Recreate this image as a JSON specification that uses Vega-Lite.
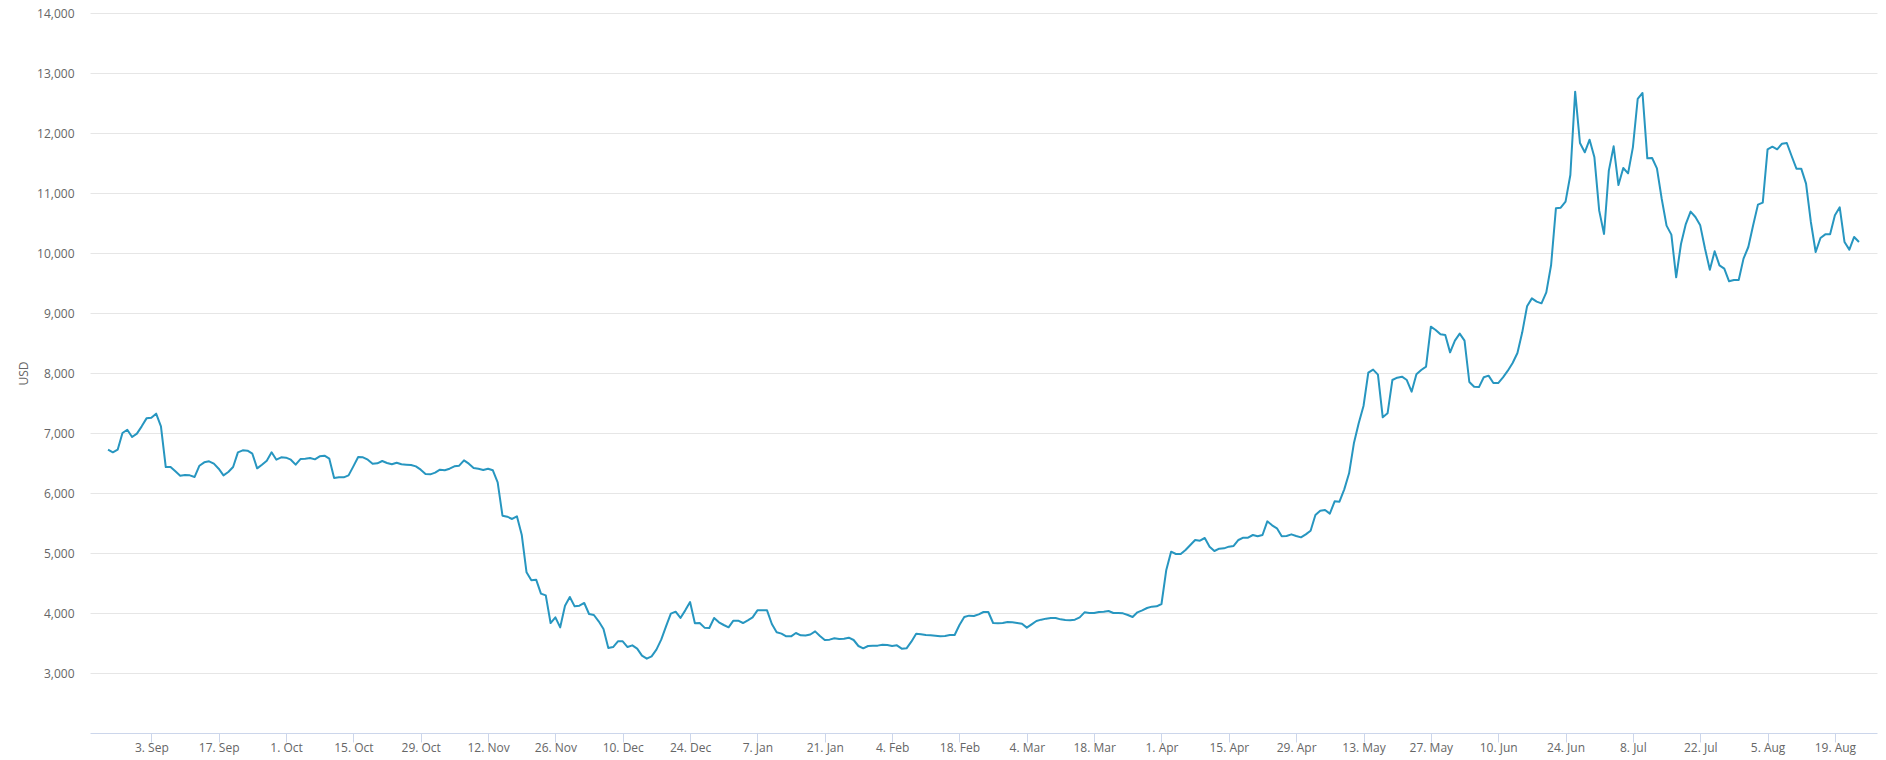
{
  "$schema": "https://vega.github.io/schema/vega-lite/v6.json",
  "width": 1787,
  "height": 720,
  "autosize": {"type": "none"},
  "padding": {"left": 90, "top": 13, "right": 9, "bottom": 27},
  "background": "white",
  "config": {"view": {"stroke": null}, "font": "Open Sans"},
  "data": {
    "values": [
      {"date": "2018-08-25", "price": 6722}, {"date": "2018-08-26", "price": 6678}, {"date": "2018-08-27", "price": 6722},
      {"date": "2018-08-28", "price": 7000}, {"date": "2018-08-29", "price": 7055}, {"date": "2018-08-30", "price": 6933},
      {"date": "2018-08-31", "price": 6989},
      {"date": "2018-09-01", "price": 7111}, {"date": "2018-09-02", "price": 7244}, {"date": "2018-09-03", "price": 7255},
      {"date": "2018-09-04", "price": 7322}, {"date": "2018-09-05", "price": 7111}, {"date": "2018-09-06", "price": 6433},
      {"date": "2018-09-07", "price": 6433}, {"date": "2018-09-08", "price": 6361}, {"date": "2018-09-09", "price": 6289},
      {"date": "2018-09-10", "price": 6300}, {"date": "2018-09-11", "price": 6294}, {"date": "2018-09-12", "price": 6267},
      {"date": "2018-09-13", "price": 6455}, {"date": "2018-09-14", "price": 6511}, {"date": "2018-09-15", "price": 6528},
      {"date": "2018-09-16", "price": 6489}, {"date": "2018-09-17", "price": 6405}, {"date": "2018-09-18", "price": 6294},
      {"date": "2018-09-19", "price": 6350}, {"date": "2018-09-20", "price": 6433}, {"date": "2018-09-21", "price": 6678},
      {"date": "2018-09-22", "price": 6711}, {"date": "2018-09-23", "price": 6705}, {"date": "2018-09-24", "price": 6655},
      {"date": "2018-09-25", "price": 6411}, {"date": "2018-09-26", "price": 6472}, {"date": "2018-09-27", "price": 6539},
      {"date": "2018-09-28", "price": 6678}, {"date": "2018-09-29", "price": 6555}, {"date": "2018-09-30", "price": 6594},
      {"date": "2018-10-01", "price": 6589}, {"date": "2018-10-02", "price": 6555}, {"date": "2018-10-03", "price": 6472},
      {"date": "2018-10-04", "price": 6566}, {"date": "2018-10-05", "price": 6572}, {"date": "2018-10-06", "price": 6583},
      {"date": "2018-10-07", "price": 6561}, {"date": "2018-10-08", "price": 6611}, {"date": "2018-10-09", "price": 6622},
      {"date": "2018-10-10", "price": 6572}, {"date": "2018-10-11", "price": 6250}, {"date": "2018-10-12", "price": 6261},
      {"date": "2018-10-13", "price": 6261}, {"date": "2018-10-14", "price": 6294}, {"date": "2018-10-15", "price": 6444},
      {"date": "2018-10-16", "price": 6600}, {"date": "2018-10-17", "price": 6594}, {"date": "2018-10-18", "price": 6555},
      {"date": "2018-10-19", "price": 6489}, {"date": "2018-10-20", "price": 6494}, {"date": "2018-10-21", "price": 6533},
      {"date": "2018-10-22", "price": 6500}, {"date": "2018-10-23", "price": 6478}, {"date": "2018-10-24", "price": 6505},
      {"date": "2018-10-25", "price": 6478}, {"date": "2018-10-26", "price": 6472}, {"date": "2018-10-27", "price": 6467},
      {"date": "2018-10-28", "price": 6444}, {"date": "2018-10-29", "price": 6389}, {"date": "2018-10-30", "price": 6317},
      {"date": "2018-10-31", "price": 6311},
      {"date": "2018-11-01", "price": 6339}, {"date": "2018-11-02", "price": 6389}, {"date": "2018-11-03", "price": 6378},
      {"date": "2018-11-04", "price": 6405}, {"date": "2018-11-05", "price": 6444}, {"date": "2018-11-06", "price": 6455},
      {"date": "2018-11-07", "price": 6544}, {"date": "2018-11-08", "price": 6489}, {"date": "2018-11-09", "price": 6417},
      {"date": "2018-11-10", "price": 6405}, {"date": "2018-11-11", "price": 6383}, {"date": "2018-11-12", "price": 6405},
      {"date": "2018-11-13", "price": 6378}, {"date": "2018-11-14", "price": 6178}, {"date": "2018-11-15", "price": 5622},
      {"date": "2018-11-16", "price": 5605}, {"date": "2018-11-17", "price": 5567}, {"date": "2018-11-18", "price": 5611},
      {"date": "2018-11-19", "price": 5306}, {"date": "2018-11-20", "price": 4678}, {"date": "2018-11-21", "price": 4544},
      {"date": "2018-11-22", "price": 4555}, {"date": "2018-11-23", "price": 4322}, {"date": "2018-11-24", "price": 4294},
      {"date": "2018-11-25", "price": 3833}, {"date": "2018-11-26", "price": 3928}, {"date": "2018-11-27", "price": 3761},
      {"date": "2018-11-28", "price": 4122}, {"date": "2018-11-29", "price": 4267}, {"date": "2018-11-30", "price": 4111},
      {"date": "2018-12-01", "price": 4122}, {"date": "2018-12-02", "price": 4167}, {"date": "2018-12-03", "price": 3983},
      {"date": "2018-12-04", "price": 3967}, {"date": "2018-12-05", "price": 3861}, {"date": "2018-12-06", "price": 3733},
      {"date": "2018-12-07", "price": 3417}, {"date": "2018-12-08", "price": 3433}, {"date": "2018-12-09", "price": 3528},
      {"date": "2018-12-10", "price": 3528}, {"date": "2018-12-11", "price": 3433}, {"date": "2018-12-12", "price": 3461},
      {"date": "2018-12-13", "price": 3406}, {"date": "2018-12-14", "price": 3289}, {"date": "2018-12-15", "price": 3239},
      {"date": "2018-12-16", "price": 3278}, {"date": "2018-12-17", "price": 3389}, {"date": "2018-12-18", "price": 3556},
      {"date": "2018-12-19", "price": 3778}, {"date": "2018-12-20", "price": 3989}, {"date": "2018-12-21", "price": 4022},
      {"date": "2018-12-22", "price": 3917}, {"date": "2018-12-23", "price": 4044}, {"date": "2018-12-24", "price": 4183},
      {"date": "2018-12-25", "price": 3828}, {"date": "2018-12-26", "price": 3833}, {"date": "2018-12-27", "price": 3756},
      {"date": "2018-12-28", "price": 3750}, {"date": "2018-12-29", "price": 3917}, {"date": "2018-12-30", "price": 3844},
      {"date": "2018-12-31", "price": 3800},
      {"date": "2019-01-01", "price": 3761}, {"date": "2019-01-02", "price": 3872}, {"date": "2019-01-03", "price": 3872},
      {"date": "2019-01-04", "price": 3833}, {"date": "2019-01-05", "price": 3878}, {"date": "2019-01-06", "price": 3928},
      {"date": "2019-01-07", "price": 4044}, {"date": "2019-01-08", "price": 4044}, {"date": "2019-01-09", "price": 4044},
      {"date": "2019-01-10", "price": 3817}, {"date": "2019-01-11", "price": 3678}, {"date": "2019-01-12", "price": 3656},
      {"date": "2019-01-13", "price": 3611}, {"date": "2019-01-14", "price": 3611}, {"date": "2019-01-15", "price": 3667},
      {"date": "2019-01-16", "price": 3628}, {"date": "2019-01-17", "price": 3625}, {"date": "2019-01-18", "price": 3642},
      {"date": "2019-01-19", "price": 3694}, {"date": "2019-01-20", "price": 3617}, {"date": "2019-01-21", "price": 3550},
      {"date": "2019-01-22", "price": 3556}, {"date": "2019-01-23", "price": 3578}, {"date": "2019-01-24", "price": 3567},
      {"date": "2019-01-25", "price": 3572}, {"date": "2019-01-26", "price": 3589}, {"date": "2019-01-27", "price": 3550},
      {"date": "2019-01-28", "price": 3450}, {"date": "2019-01-29", "price": 3411}, {"date": "2019-01-30", "price": 3450},
      {"date": "2019-01-31", "price": 3456},
      {"date": "2019-02-01", "price": 3456}, {"date": "2019-02-02", "price": 3472}, {"date": "2019-02-03", "price": 3467},
      {"date": "2019-02-04", "price": 3450}, {"date": "2019-02-05", "price": 3461}, {"date": "2019-02-06", "price": 3406},
      {"date": "2019-02-07", "price": 3411}, {"date": "2019-02-08", "price": 3522}, {"date": "2019-02-09", "price": 3656},
      {"date": "2019-02-10", "price": 3644}, {"date": "2019-02-11", "price": 3633}, {"date": "2019-02-12", "price": 3628},
      {"date": "2019-02-13", "price": 3622}, {"date": "2019-02-14", "price": 3611}, {"date": "2019-02-15", "price": 3617},
      {"date": "2019-02-16", "price": 3633}, {"date": "2019-02-17", "price": 3633}, {"date": "2019-02-18", "price": 3800},
      {"date": "2019-02-19", "price": 3933}, {"date": "2019-02-20", "price": 3956}, {"date": "2019-02-21", "price": 3950},
      {"date": "2019-02-22", "price": 3978}, {"date": "2019-02-23", "price": 4017}, {"date": "2019-02-24", "price": 4017},
      {"date": "2019-02-25", "price": 3833}, {"date": "2019-02-26", "price": 3828}, {"date": "2019-02-27", "price": 3833},
      {"date": "2019-02-28", "price": 3850},
      {"date": "2019-03-01", "price": 3844}, {"date": "2019-03-02", "price": 3833}, {"date": "2019-03-03", "price": 3822},
      {"date": "2019-03-04", "price": 3756}, {"date": "2019-03-05", "price": 3811}, {"date": "2019-03-06", "price": 3867},
      {"date": "2019-03-07", "price": 3889}, {"date": "2019-03-08", "price": 3906}, {"date": "2019-03-09", "price": 3917},
      {"date": "2019-03-10", "price": 3917}, {"date": "2019-03-11", "price": 3894}, {"date": "2019-03-12", "price": 3883},
      {"date": "2019-03-13", "price": 3878}, {"date": "2019-03-14", "price": 3889}, {"date": "2019-03-15", "price": 3928},
      {"date": "2019-03-16", "price": 4011}, {"date": "2019-03-17", "price": 4000}, {"date": "2019-03-18", "price": 4000},
      {"date": "2019-03-19", "price": 4017}, {"date": "2019-03-20", "price": 4022}, {"date": "2019-03-21", "price": 4033},
      {"date": "2019-03-22", "price": 4000}, {"date": "2019-03-23", "price": 4000}, {"date": "2019-03-24", "price": 3994},
      {"date": "2019-03-25", "price": 3967}, {"date": "2019-03-26", "price": 3933}, {"date": "2019-03-27", "price": 4011},
      {"date": "2019-03-28", "price": 4044}, {"date": "2019-03-29", "price": 4083}, {"date": "2019-03-30", "price": 4106},
      {"date": "2019-03-31", "price": 4111},
      {"date": "2019-04-01", "price": 4150}, {"date": "2019-04-02", "price": 4717}, {"date": "2019-04-03", "price": 5022},
      {"date": "2019-04-04", "price": 4983}, {"date": "2019-04-05", "price": 4983}, {"date": "2019-04-06", "price": 5050},
      {"date": "2019-04-07", "price": 5133}, {"date": "2019-04-08", "price": 5217}, {"date": "2019-04-09", "price": 5206},
      {"date": "2019-04-10", "price": 5250}, {"date": "2019-04-11", "price": 5106}, {"date": "2019-04-12", "price": 5033},
      {"date": "2019-04-13", "price": 5072}, {"date": "2019-04-14", "price": 5078}, {"date": "2019-04-15", "price": 5106},
      {"date": "2019-04-16", "price": 5117}, {"date": "2019-04-17", "price": 5217}, {"date": "2019-04-18", "price": 5256},
      {"date": "2019-04-19", "price": 5256}, {"date": "2019-04-20", "price": 5300}, {"date": "2019-04-21", "price": 5278},
      {"date": "2019-04-22", "price": 5300}, {"date": "2019-04-23", "price": 5528}, {"date": "2019-04-24", "price": 5461},
      {"date": "2019-04-25", "price": 5411}, {"date": "2019-04-26", "price": 5278}, {"date": "2019-04-27", "price": 5283},
      {"date": "2019-04-28", "price": 5311}, {"date": "2019-04-29", "price": 5283}, {"date": "2019-04-30", "price": 5261},
      {"date": "2019-05-01", "price": 5311}, {"date": "2019-05-02", "price": 5372}, {"date": "2019-05-03", "price": 5633},
      {"date": "2019-05-04", "price": 5706}, {"date": "2019-05-05", "price": 5717}, {"date": "2019-05-06", "price": 5656},
      {"date": "2019-05-07", "price": 5861}, {"date": "2019-05-08", "price": 5856}, {"date": "2019-05-09", "price": 6061},
      {"date": "2019-05-10", "price": 6328}, {"date": "2019-05-11", "price": 6828}, {"date": "2019-05-12", "price": 7161},
      {"date": "2019-05-13", "price": 7450}, {"date": "2019-05-14", "price": 8006}, {"date": "2019-05-15", "price": 8056},
      {"date": "2019-05-16", "price": 7972}, {"date": "2019-05-17", "price": 7261}, {"date": "2019-05-18", "price": 7328},
      {"date": "2019-05-19", "price": 7883}, {"date": "2019-05-20", "price": 7922}, {"date": "2019-05-21", "price": 7939},
      {"date": "2019-05-22", "price": 7883}, {"date": "2019-05-23", "price": 7689}, {"date": "2019-05-24", "price": 7978},
      {"date": "2019-05-25", "price": 8050}, {"date": "2019-05-26", "price": 8106}, {"date": "2019-05-27", "price": 8772},
      {"date": "2019-05-28", "price": 8717}, {"date": "2019-05-29", "price": 8644}, {"date": "2019-05-30", "price": 8633},
      {"date": "2019-05-31", "price": 8344},
      {"date": "2019-06-01", "price": 8539}, {"date": "2019-06-02", "price": 8656}, {"date": "2019-06-03", "price": 8539},
      {"date": "2019-06-04", "price": 7850}, {"date": "2019-06-05", "price": 7770}, {"date": "2019-06-06", "price": 7765},
      {"date": "2019-06-07", "price": 7930}, {"date": "2019-06-08", "price": 7956}, {"date": "2019-06-09", "price": 7833},
      {"date": "2019-06-10", "price": 7833}, {"date": "2019-06-11", "price": 7928}, {"date": "2019-06-12", "price": 8039},
      {"date": "2019-06-13", "price": 8167}, {"date": "2019-06-14", "price": 8333}, {"date": "2019-06-15", "price": 8678},
      {"date": "2019-06-16", "price": 9111}, {"date": "2019-06-17", "price": 9244}, {"date": "2019-06-18", "price": 9189},
      {"date": "2019-06-19", "price": 9161}, {"date": "2019-06-20", "price": 9344}, {"date": "2019-06-21", "price": 9800},
      {"date": "2019-06-22", "price": 10744}, {"date": "2019-06-23", "price": 10756}, {"date": "2019-06-24", "price": 10856},
      {"date": "2019-06-25", "price": 11300}, {"date": "2019-06-26", "price": 12689}, {"date": "2019-06-27", "price": 11833},
      {"date": "2019-06-28", "price": 11678}, {"date": "2019-06-29", "price": 11889}, {"date": "2019-06-30", "price": 11594},
      {"date": "2019-07-01", "price": 10706}, {"date": "2019-07-02", "price": 10317}, {"date": "2019-07-03", "price": 11372},
      {"date": "2019-07-04", "price": 11778}, {"date": "2019-07-05", "price": 11133}, {"date": "2019-07-06", "price": 11417},
      {"date": "2019-07-07", "price": 11328}, {"date": "2019-07-08", "price": 11761}, {"date": "2019-07-09", "price": 12567},
      {"date": "2019-07-10", "price": 12667}, {"date": "2019-07-11", "price": 11578}, {"date": "2019-07-12", "price": 11583},
      {"date": "2019-07-13", "price": 11411}, {"date": "2019-07-14", "price": 10900}, {"date": "2019-07-15", "price": 10456},
      {"date": "2019-07-16", "price": 10306}, {"date": "2019-07-17", "price": 9594}, {"date": "2019-07-18", "price": 10150},
      {"date": "2019-07-19", "price": 10483}, {"date": "2019-07-20", "price": 10690}, {"date": "2019-07-21", "price": 10600},
      {"date": "2019-07-22", "price": 10461}, {"date": "2019-07-23", "price": 10070}, {"date": "2019-07-24", "price": 9720},
      {"date": "2019-07-25", "price": 10028}, {"date": "2019-07-26", "price": 9794}, {"date": "2019-07-27", "price": 9739},
      {"date": "2019-07-28", "price": 9528}, {"date": "2019-07-29", "price": 9550}, {"date": "2019-07-30", "price": 9550},
      {"date": "2019-07-31", "price": 9906},
      {"date": "2019-08-01", "price": 10100}, {"date": "2019-08-02", "price": 10461}, {"date": "2019-08-03", "price": 10806},
      {"date": "2019-08-04", "price": 10839}, {"date": "2019-08-05", "price": 11728}, {"date": "2019-08-06", "price": 11772},
      {"date": "2019-08-07", "price": 11728}, {"date": "2019-08-08", "price": 11822}, {"date": "2019-08-09", "price": 11833},
      {"date": "2019-08-10", "price": 11617}, {"date": "2019-08-11", "price": 11406}, {"date": "2019-08-12", "price": 11406},
      {"date": "2019-08-13", "price": 11156}, {"date": "2019-08-14", "price": 10517}, {"date": "2019-08-15", "price": 10017},
      {"date": "2019-08-16", "price": 10250}, {"date": "2019-08-17", "price": 10311}, {"date": "2019-08-18", "price": 10311},
      {"date": "2019-08-19", "price": 10628}, {"date": "2019-08-20", "price": 10761}, {"date": "2019-08-21", "price": 10183},
      {"date": "2019-08-22", "price": 10056}, {"date": "2019-08-23", "price": 10267}, {"date": "2019-08-24", "price": 10183}
    ]
  },
  "mark": {"type": "line", "color": "#2796c0", "strokeWidth": 2, "strokeJoin": "round"},
  "encoding": {
    "x": {
      "field": "date",
      "type": "temporal",
      "scale": {
        "type": "utc",
        "domain": [
          {"year": 2018, "month": 8, "date": 21, "hours": 6, "utc": true},
          {"year": 2019, "month": 8, "date": 27, "hours": 18, "utc": true}
        ]
      },
      "axis": {
        "title": null,
        "grid": false,
        "format": "%-d. %b",
        "values": [
          {"year": 2018, "month": 9, "date": 3, "utc": true},
          {"year": 2018, "month": 9, "date": 17, "utc": true},
          {"year": 2018, "month": 10, "date": 1, "utc": true},
          {"year": 2018, "month": 10, "date": 15, "utc": true},
          {"year": 2018, "month": 10, "date": 29, "utc": true},
          {"year": 2018, "month": 11, "date": 12, "utc": true},
          {"year": 2018, "month": 11, "date": 26, "utc": true},
          {"year": 2018, "month": 12, "date": 10, "utc": true},
          {"year": 2018, "month": 12, "date": 24, "utc": true},
          {"year": 2019, "month": 1, "date": 7, "utc": true},
          {"year": 2019, "month": 1, "date": 21, "utc": true},
          {"year": 2019, "month": 2, "date": 4, "utc": true},
          {"year": 2019, "month": 2, "date": 18, "utc": true},
          {"year": 2019, "month": 3, "date": 4, "utc": true},
          {"year": 2019, "month": 3, "date": 18, "utc": true},
          {"year": 2019, "month": 4, "date": 1, "utc": true},
          {"year": 2019, "month": 4, "date": 15, "utc": true},
          {"year": 2019, "month": 4, "date": 29, "utc": true},
          {"year": 2019, "month": 5, "date": 13, "utc": true},
          {"year": 2019, "month": 5, "date": 27, "utc": true},
          {"year": 2019, "month": 6, "date": 10, "utc": true},
          {"year": 2019, "month": 6, "date": 24, "utc": true},
          {"year": 2019, "month": 7, "date": 8, "utc": true},
          {"year": 2019, "month": 7, "date": 22, "utc": true},
          {"year": 2019, "month": 8, "date": 5, "utc": true},
          {"year": 2019, "month": 8, "date": 19, "utc": true}
        ],
        "domainColor": "#ccd6eb",
        "tickColor": "#ccd6eb",
        "tickSize": 9,
        "labelPadding": 0,
        "labelFontSize": 12,
        "labelColor": "#666666",
        "labelFlush": false,
        "labelOverlap": false
      }
    },
    "y": {
      "field": "price",
      "type": "quantitative",
      "scale": {"domain": [2000, 14000], "nice": false, "zero": false},
      "axis": {
        "title": "USD",
        "titleFontSize": 12,
        "titleFontWeight": "normal",
        "titleColor": "#666666",
        "titleX": -67,
        "titleY": 360,
        "titleAngle": 270,
        "titleAlign": "center",
        "titleBaseline": "middle",
        "values": [3000, 4000, 5000, 6000, 7000, 8000, 9000, 10000, 11000, 12000, 13000, 14000],
        "format": ",d",
        "domain": false,
        "ticks": false,
        "labelPadding": 16,
        "labelFontSize": 12,
        "labelColor": "#666666",
        "gridColor": "#e6e6e6",
        "gridWidth": 1
      }
    }
  }
}
